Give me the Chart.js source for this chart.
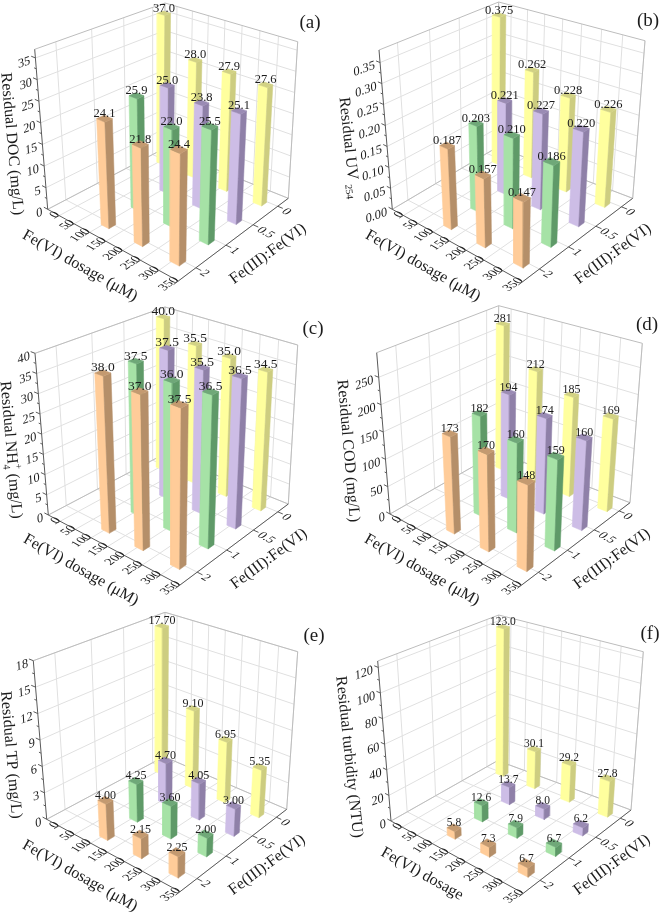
<!DOCTYPE html>
<html><head><meta charset="utf-8">
<style>html,body{margin:0;padding:0;background:#fff;width:661px;height:912px;overflow:hidden}canvas{position:absolute;display:block}</style>
<script src="https://cdn.jsdelivr.net/npm/chart.js@4"></script>
</head><body>
<script>
// ---- categories and ticks ----
const doseTicks = [0, 50, 100, 150, 200, 250, 300, 350];
const ratioCategories = ['0', '0.5', '1', '2'];
const dosesYellow = [0, 100, 200, 300];
const dosesOther = [100, 200, 300];
// ---- values (ratio 0, 0.5, 1, 2) ----
const docR0 = [37.0, 28.0, 27.9, 27.6], docR05 = [25.0, 23.8, 25.1], docR1 = [25.9, 22.0, 25.5], docR2 = [24.1, 21.8, 24.4];
const uvR0 = [0.375, 0.262, 0.228, 0.226], uvR05 = [0.221, 0.227, 0.220], uvR1 = [0.203, 0.210, 0.186], uvR2 = [0.187, 0.157, 0.147];
const nhR0 = [40.0, 35.5, 35.0, 34.5], nhR05 = [37.5, 35.5, 36.5], nhR1 = [37.5, 36.0, 36.5], nhR2 = [38.0, 37.0, 37.5];
const codR0 = [281, 212, 185, 169], codR05 = [194, 174, 160], codR1 = [182, 160, 159], codR2 = [173, 170, 148];
const tpR0 = [17.70, 9.10, 6.95, 5.35], tpR05 = [4.70, 4.05, 3.00], tpR1 = [4.25, 3.60, 2.00], tpR2 = [4.00, 2.15, 2.25];
const turbR0 = [123.0, 30.1, 29.2, 27.8], turbR05 = [13.7, 8.0, 6.2], turbR1 = [12.6, 7.9, 6.7], turbR2 = [5.8, 7.3, 6.7];
// ---- value-axis ticks ----
const docTicks = ['0','5','10','15','20','25','30','35'];
const uvTicks = ['0.00','0.05','0.10','0.15','0.20','0.25','0.30','0.35'];
const nhTicks = ['0','5','10','15','20','25','30','35','40'];
const codTicks = ['0','50','100','150','200','250'];
const tpTicks = ['0','3','6','9','12','15','18'];
const turbTicks = ['0','20','40','60','80','100','120'];

// ---- look ----
const FONT = '"Liberation Serif","Times New Roman",serif';
const faceColors = [
  {l:'#FFFF9E', r:'#CDCD80', t:'#D2D284'},
  {l:'#CDBDE6', r:'#8F80A8', t:'#9A8BB4'},
  {l:'#A6E2A6', r:'#5F9A68', t:'#6FA878'},
  {l:'#FFCC99', r:'#B58F69', t:'#C49A70'}
];
const ratioV = [0.885, 0.635, 0.385, 0.135];
const barV = [0.885, 0.635, 0.385, 0.15];
const D0 = -40, DU = 0.062, DV = 0.052;

const panels = [
 {id:'a',box:[0,0,331,303],L0:[47.7,209.3],Lt:[34.7,49.3],F0:[178.3,281],R0:[288.3,198.3],Rt:[297.7,41.7],Bt:[165,3],shift:[0.024,-0.033],
  ymax:37,ticks:docTicks,vals:[docR0,docR05,docR1,docR2],dec:1,fs:12.5,
  yTitle:[{t:'Residual DOC (mg/L)',s:16}],yT:[11.7,144,85],xTitle:'Fe(VI) dosage (\u03bcM)',xT:[80,266],zT:[268,254],tag:[310,23]},
 {id:'b',box:[330,0,331,303],L0:[392.3,209.3],Lt:[379,50],F0:[522.7,281.7],R0:[632.7,198.3],Rt:[645,40.7],Bt:[498.7,2],shift:[0.032,-0.038],
  ymax:0.38,ticks:uvTicks,vals:[uvR0,uvR05,uvR1,uvR2],dec:3,fs:12.5,
  yTitle:[{t:'Residual UV ',s:16},{t:'254',s:10,dy:5}],yT:[349,148,84],xTitle:'Fe(VI) dosage (\u03bcM)',xT:[423,266],zT:[613,254],tag:[648,21]},
 {id:'c',box:[0,303,331,305],L0:[48.3,515],Lt:[35,353.3],F0:[180,585],R0:[288.3,504],Rt:[297.7,345],Bt:[165,307],shift:[0.014,-0.03],
  ymax:40,ticks:nhTicks,vals:[nhR0,nhR05,nhR1,nhR2],dec:1,fs:13.5,
  yTitle:[{t:'Residual NH',s:16},{t:'+',s:10,dy:-6,stack:'4'},{t:' (mg/L)',s:16}],yT:[10.7,450,85],xTitle:'Fe(VI) dosage (\u03bcM)',xT:[81,570],zT:[269,559],tag:[313,329]},
 {id:'d',box:[330,303,331,305],L0:[390,514],Lt:[376.7,352.7],F0:[521.7,585],R0:[630,502.7],Rt:[642.3,343.3],Bt:[498.7,305.7],shift:[0.05,-0.023],
  ymax:295,ticks:codTicks,vals:[codR0,codR05,codR1,codR2],dec:0,fs:12,
  yTitle:[{t:'Residual COD (mg/L)',s:16}],yT:[348,451,85],xTitle:'Fe(VI) dosage (\u03bcM)',xT:[422,570],zT:[612,559],tag:[647,325]},
 {id:'e',box:[0,608,331,304],L0:[46.7,819.3],Lt:[33.3,660.7],F0:[180,891.7],R0:[286.7,809.3],Rt:[297.7,651.7],Bt:[165,612.3],shift:[0.02,-0.048],
  ymax:18,ticks:tpTicks,vals:[tpR0,tpR05,tpR1,tpR2],dec:2,fs:12,
  yTitle:[{t:'Residual TP (mg/L)',s:16}],yT:[10.7,755,85],xTitle:'Fe(VI) dosage (\u03bcM)',xT:[80,876],zT:[267,865],tag:[314,636]},
 {id:'f',box:[330,608,331,304],L0:[391,821],Lt:[377.7,661],F0:[523.3,893.3],R0:[631,810],Rt:[643.3,651.7],Bt:[498.7,615],shift:[0.038,-0.009],
  ymax:125,ticks:turbTicks,vals:[turbR0,turbR05,turbR1,turbR2],dec:1,fs:11.5,
  yTitle:[{t:'Residual turbidity (NTU)',s:16}],yT:[349,757,84],xTitle:'Fe(VI) dosage',xT:[422,874],zT:[612,865],tag:[650,634]}
];

function homography(p00,p10,p11,p01){
  const sx=p00[0]-p10[0]+p11[0]-p01[0], sy=p00[1]-p10[1]+p11[1]-p01[1];
  const d1x=p10[0]-p11[0], d1y=p10[1]-p11[1], d2x=p01[0]-p11[0], d2y=p01[1]-p11[1];
  const det=d1x*d2y-d2x*d1y;
  const g=(sx*d2y-d2x*sy)/det, h=(d1x*sy-sx*d1y)/det;
  const a=p10[0]-p00[0]+g*p10[0], b=p01[0]-p00[0]+h*p01[0], c=p00[0];
  const d=p10[1]-p00[1]+g*p10[1], e=p01[1]-p00[1]+h*p01[1], f=p00[1];
  return (u,v)=>{const w=g*u+h*v+1;return [(a*u+b*v+c)/w,(d*u+e*v+f)/w];};
}
const doseU = d => (d-D0)/(350-D0);

function makeProjector(p){
  const H=p.L0[1]-p.Lt[1];
  const Ft=[p.F0[0]+1.5,p.F0[1]-1.08*H];
  const B0=[p.Bt[0]-1,p.Bt[1]+0.91*H];
  const low=homography(p.L0,p.F0,p.R0,B0), high=homography(p.Lt,Ft,p.Rt,p.Bt);
  return (u,v,val)=>{const a=low(u,v),b=high(u,v),k=val/p.ymax;return {x:a[0]+(b[0]-a[0])*k,y:a[1]+(b[1]-a[1])*k};};
}
const gap={x:null,y:null};
function lineSet(segs,color,width,order){
  const data=[];segs.forEach(s=>{data.push(s[0],s[1],gap);});
  return {data,showLine:true,borderColor:color,borderWidth:width,pointRadius:0,pointHoverRadius:0,tension:0,clip:false,order,spanGaps:false};
}
function polySet(pts,fill,order){
  return {data:pts.concat([pts[0]]),polyFill:fill,showLine:true,borderColor:fill,borderWidth:0.5,pointRadius:0,pointHoverRadius:0,tension:0,clip:false,order};
}

const polygonPlugin={id:'polygonPlugin',beforeDatasetDraw(chart,args){
  const ds=chart.data.datasets[args.index];
  if(!ds.polyFill)return;
  const pts=args.meta.data,c=chart.ctx;
  c.save();c.beginPath();pts.forEach((q,i)=>i?c.lineTo(q.x,q.y):c.moveTo(q.x,q.y));c.closePath();c.fillStyle=ds.polyFill;c.fill();c.restore();
}};

function buildPanel(p){
  const P=makeProjector(p);
  const nY=p.ticks.length, yVals=p.ticks.map(Number);
  const grid=[],frame=[],axis=[],tk=[];
  doseTicks.forEach(d=>{const u=doseU(d);
    grid.push([P(u,0,0),P(u,1,0)]);
    grid.push([P(u,1,0),P(u,1,p.ymax)]);
    tk.push([P(u,0,0),P(u,-0.035,0)]);
  });
  ratioV.forEach(v=>{
    grid.push([P(0,v,0),P(1,v,0)]);
    grid.push([P(0,v,0),P(0,v,p.ymax)]);
    tk.push([P(1,v,0),P(1.035,v,0)]);
  });
  yVals.forEach((y,i)=>{
    grid.push([P(0,0,y),P(0,1,y)]);
    grid.push([P(0,1,y),P(1,1,y)]);
    tk.push([P(0,0,y),P(-0.035,0,y)]);
    if(i<nY-1){const m=(y+yVals[i+1])/2;tk.push([P(0,0,m),P(-0.018,0,m)]);}
  });
  frame.push([P(0,0,p.ymax),P(0,1,p.ymax)],[P(0,1,p.ymax),P(1,1,p.ymax)],[P(1,1,0),P(1,1,p.ymax)],[P(0,1,0),P(0,1,p.ymax)],[P(0,1,0),P(0,0,0)],[P(0,1,0),P(1,1,0)]);
  axis.push([P(0,0,0),P(1,0,0)],[P(1,0,0),P(1,1,0)],[P(0,0,0),P(0,0,p.ymax)]);

  const bars=[];
  p.vals.forEach((arr,i)=>{
    const ds=arr.length===4?dosesYellow:dosesOther;
    arr.forEach((val,j)=>bars.push({i,dose:ds[j],val}));
  });
  const datasets=[];
  let order=1000;
  datasets.push(lineSet(grid,'#E0E0E0',1,order--));
  datasets.push(lineSet(frame,'#BDBDBD',1,order--));
  datasets.push(lineSet(axis,'#5A5A5A',1,order--));
  datasets.push(lineSet(tk,'#5A5A5A',1,order--));
  const labels=[];
  bars.forEach(b=>{
    const u=doseU(b.dose)+p.shift[0],v=barV[b.i]+p.shift[1],du=DU/2,dv=DV/2,col=faceColors[b.i];
    const c=(a,e,h)=>P(u+a*du,v+e*dv,h);
    datasets.push(polySet([c(-1,-1,0),c(1,-1,0),c(1,-1,b.val),c(-1,-1,b.val)],col.l,order--));
    datasets.push(polySet([c(1,-1,0),c(1,1,0),c(1,1,b.val),c(1,-1,b.val)],col.r,order--));
    datasets.push(polySet([c(-1,-1,b.val),c(1,-1,b.val),c(1,1,b.val),c(-1,1,b.val)],col.t,order--));
    labels.push({pos:P(u,v,b.val),text:b.val.toFixed(p.dec)});
  });

  const cv=document.createElement('canvas');
  const [bx,by,bw,bh]=p.box;
  cv.width=bw;cv.height=bh;cv.style.left=bx+'px';cv.style.top=by+'px';cv.style.width=bw+'px';cv.style.height=bh+'px';
  document.body.appendChild(cv);

  const textPlugin={id:'textPlugin',afterDatasetsDraw(chart){
    const c=chart.ctx,sx=chart.scales.x,sy=chart.scales.y;
    const px=q=>[sx.getPixelForValue(q.x),sy.getPixelForValue(q.y)];
    const at=a=>px({x:a[0],y:a[1]});
    c.save();
    c.fillStyle='#1c1c1c';c.textBaseline='alphabetic';
    c.font=p.fs+'px '+FONT;c.textAlign='center';
    labels.forEach(l=>{const [x,y]=px(l.pos);c.fillText(l.text,x,y-1.5);});
    c.font='13px '+FONT;c.textAlign='right';
    p.ticks.forEach((t,i)=>{const [x,y]=px(P(0,0,yVals[i]));
      c.save();c.transform(0.94,-0.34,0.06,1,x-5,y+6);c.fillText(t,0,0);c.restore();});
    c.font='12.5px '+FONT;
    c.textAlign='right';
    doseTicks.forEach(d=>{const [x,y]=px(P(doseU(d),0,0));
      c.save();c.transform(0.82,-0.58,0.86,0.5,x+1,y-1);c.fillText(String(d),0,0);c.restore();});
    c.textAlign='left';
    ratioCategories.forEach((t,i)=>{const [x,y]=px(P(1,ratioV[i],0));
      c.save();c.transform(0.88,0.48,-0.82,0.58,x+3,y+6);c.fillText(t,0,0);c.restore();});
    c.font='16px '+FONT;c.textAlign='center';c.textBaseline='middle';
    let q=at(p.xT);
    c.save();c.translate(q[0],q[1]);c.rotate(29.5*Math.PI/180);c.fillText(p.xTitle,0,0);c.restore();
    q=at(p.zT);
    c.save();c.translate(q[0],q[1]);c.rotate(-36.5*Math.PI/180);c.fillText('Fe(III):Fe(VI)',0,0);c.restore();
    q=at(p.yT);
    c.save();c.translate(q[0],q[1]);c.rotate(p.yT[2]*Math.PI/180);
    let w=0;p.yTitle.forEach(r=>{c.font=r.s+'px '+FONT;w+=c.measureText(r.t).width;});
    let cx=-w/2;c.textAlign='left';
    p.yTitle.forEach(r=>{c.font=r.s+'px '+FONT;c.fillText(r.t,cx,r.dy||0);
      if(r.stack)c.fillText(r.stack,cx,6);
      cx+=c.measureText(r.t).width;});
    c.restore();
    q=at(p.tag);
    c.font='19px '+FONT;c.textAlign='center';c.fillText('('+p.id+')',q[0],q[1]);
    c.restore();
  }};

  new Chart(cv,{type:'scatter',data:{datasets},plugins:[polygonPlugin,textPlugin],options:{
    responsive:false,animation:false,devicePixelRatio:1,
    layout:{padding:0},
    plugins:{legend:{display:false},tooltip:{enabled:false},title:{display:false}},
    events:[],
    scales:{x:{type:'linear',display:false,min:bx,max:bx+bw},y:{type:'linear',display:false,reverse:true,min:by,max:by+bh}}
  }});
}
panels.forEach(buildPanel);
</script>
</body></html>
